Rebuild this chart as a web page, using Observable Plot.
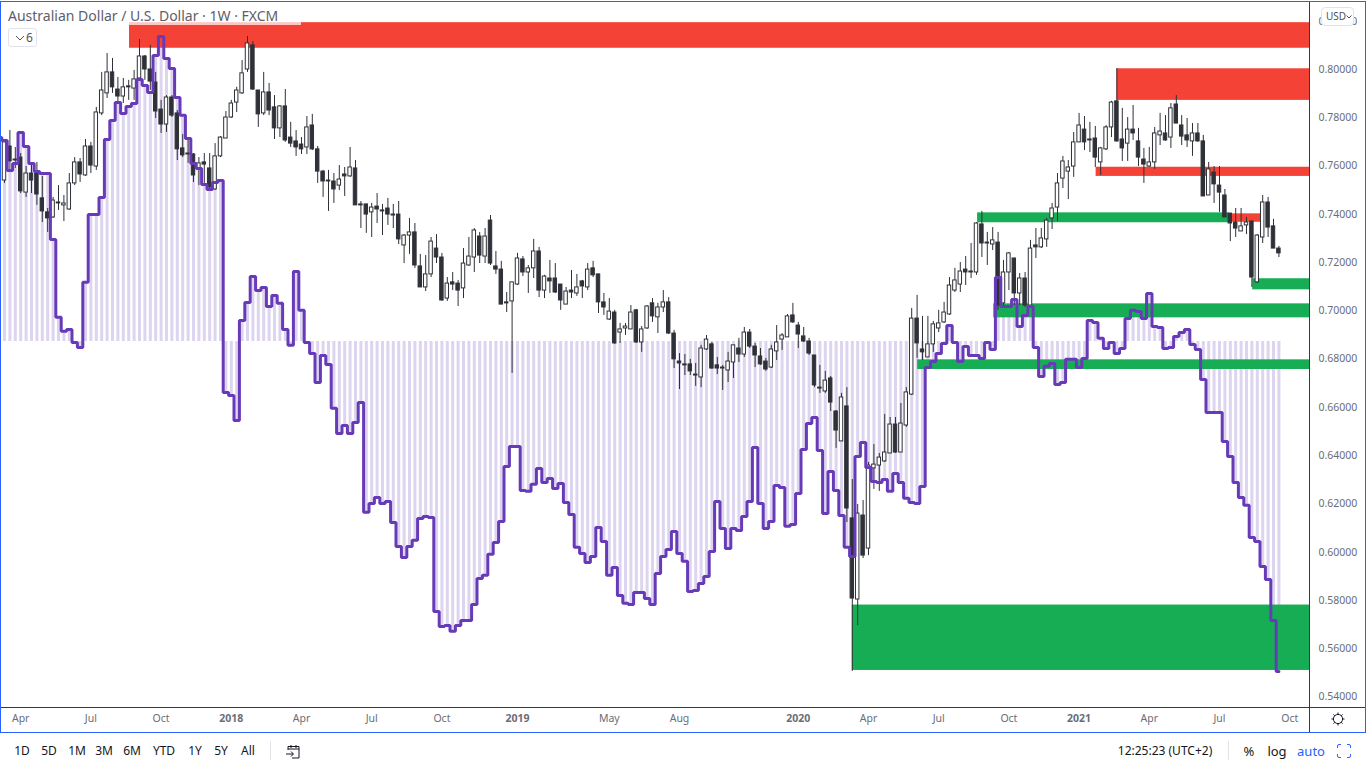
<!DOCTYPE html>
<html><head><meta charset="utf-8">
<script src="https://cdn.jsdelivr.net/npm/d3@7"></script>
<script src="https://cdn.jsdelivr.net/npm/@observablehq/plot@0.6"></script>
<style>
html,body{margin:0;padding:0;background:#fff;overflow:hidden;width:1366px;height:768px;font-family:"Noto Sans",sans-serif}
#wrap{position:relative;width:1366px;height:768px}
#chart{position:absolute;left:0;top:0}
.abs{position:absolute}
.tb{position:absolute;top:743px;font-size:12px;line-height:16px;color:#131722;transform:translateX(-50%);white-space:nowrap}
</style></head><body><div id="wrap"><div id="chart"></div></div>
<script>
// All prices in pips (price x 10000)
const opens=[7540,7681,7627,7635,7490,7569,7573,7466,7408,7387,
7449,7437,7420,7528,7615,7561,7681,7598,7818,7901,
7988,7917,7888,7930,7921,7963,8054,8000,7946,7834,
7772,7884,7818,7673,7648,7648,7590,7615,7590,7503,
7640,7714,7801,7863,7901,8000,8100,7913,7818,7905,
7843,7756,7847,7718,7702,7689,7677,7768,7669,7577,
7540,7536,7519,7565,7557,7590,7441,7441,7408,7432,
7416,7424,7399,7399,7271,7312,7325,7184,7097,7151,
7258,7221,7051,7118,7113,7093,7188,7221,7308,7225,
7374,7184,7171,7035,7039,7109,7213,7159,7176,7246,
7084,7134,7134,7109,7026,7084,7072,7122,7097,7176,
7151,7035,6964,6993,6910,6927,6923,7002,6869,6927,
7031,6973,7014,7035,6906,6790,6778,6778,6736,6724,
6840,6861,6774,6761,6753,6786,6844,6819,6910,6852,
6811,6790,6765,6832,6881,6890,6981,6939,6894,6873,
6815,6682,6666,6720,6583,6459,6604,6140,5804,6152,
6015,6347,6359,6376,6409,6529,6413,6525,6653,6968,
6840,6807,6861,6927,6952,6985,7084,7109,7171,7163,
7159,7358,7283,7275,7283,7031,7159,7217,7072,7134,
7022,7271,7263,7296,7383,7428,7548,7577,7598,7698,
7751,7710,7714,7615,7669,7760,7868,7710,7693,7751,
7702,7627,7598,7615,7727,7735,7718,7855,7768,7727,
7702,7735,7702,7478,7573,7519,7478,7403,7366,7329,
7354,7370,7118,7304,7449,7350,7258];
const highs=[7706,7747,7677,7652,7598,7611,7615,7557,7424,7470,
7519,7478,7569,7635,7631,7710,7698,7843,7988,8066,
8046,7967,7963,7955,7996,8124,8058,8100,7988,7872,
7892,7892,7830,7731,7706,7652,7635,7652,7652,7693,
7722,7826,7872,7926,8037,8137,8116,7913,7988,7942,
7892,7851,7917,7781,7747,7718,7805,7814,7681,7582,
7582,7569,7602,7594,7677,7623,7453,7441,7445,7486,
7441,7466,7441,7453,7316,7383,7362,7234,7229,7304,
7316,7238,7138,7159,7126,7258,7304,7341,7325,7341,
7395,7246,7205,7076,7118,7238,7225,7188,7296,7263,
7147,7209,7196,7109,7097,7167,7151,7126,7196,7205,
7151,7072,7051,7002,6948,6948,7022,7006,6935,7022,
7051,7031,7084,7055,6919,6823,6819,6799,6782,6857,
6898,6869,6807,6774,6828,6857,6886,6931,6923,6865,
6844,6803,6857,6939,6906,6985,7031,6952,6931,6886,
6815,6774,6749,6728,6587,6658,6682,6301,6198,6214,
6372,6446,6409,6571,6558,6558,6616,6682,7010,7064,
6977,6977,6956,7002,7035,7138,7176,7200,7225,7279,
7366,7412,7325,7345,7325,7209,7242,7217,7155,7159,
7292,7341,7341,7383,7445,7569,7640,7623,7739,7818,
7805,7781,7764,7677,7768,7868,8004,7839,7801,7851,
7756,7673,7677,7760,7818,7809,7859,7892,7809,7797,
7776,7776,7727,7615,7598,7598,7503,7403,7424,7424,
7387,7374,7316,7478,7470,7379,7267];
const lows=[7528,7582,7590,7486,7470,7486,7437,7366,7325,7383,
7416,7370,7416,7519,7532,7557,7569,7582,7809,7880,
7901,7863,7859,7872,7872,7955,7955,7913,7797,7735,
7739,7801,7623,7635,7611,7532,7519,7528,7499,7499,
7635,7714,7797,7822,7897,7988,7913,7760,7809,7809,
7710,7718,7698,7677,7640,7648,7648,7664,7528,7470,
7412,7445,7499,7474,7553,7437,7341,7321,7304,7362,
7312,7354,7341,7275,7196,7234,7176,7097,7080,7138,
7196,7039,7039,7084,7018,7051,7184,7159,7196,7196,
7188,7151,7026,6993,6741,7105,7142,7072,7134,7055,
7051,7072,7072,7002,7026,7051,7060,7051,7084,7138,
6989,6981,6960,6861,6865,6898,6923,6865,6828,6923,
6952,6906,6993,6902,6761,6674,6732,6732,6687,6682,
6836,6757,6736,6670,6703,6720,6786,6807,6844,6765,
6774,6749,6761,6794,6836,6890,6948,6844,6869,6815,
6682,6658,6658,6583,6430,6459,6123,5506,5696,5974,
5986,6260,6252,6372,6409,6409,6413,6517,6649,6803,
6794,6807,6828,6910,6948,6981,7076,7076,7105,7134,
7147,7221,7188,7250,7002,7022,7084,7022,7022,7014,
7014,7217,7258,7263,7337,7370,7507,7461,7553,7698,
7664,7656,7594,7561,7664,7718,7698,7619,7619,7706,
7598,7528,7594,7586,7685,7702,7673,7776,7685,7677,
7640,7698,7474,7478,7445,7408,7387,7287,7304,7329,
7316,7097,7113,7279,7304,7258,7221];
const closes=[7698,7619,7623,7495,7569,7540,7482,7412,7383,7457,
7445,7445,7528,7615,7565,7681,7602,7822,7913,7988,
7926,7888,7926,7926,7959,8054,8000,7950,7826,7772,
7884,7809,7669,7644,7652,7561,7611,7606,7511,7640,
7718,7801,7859,7913,7984,8108,7917,7814,7905,7830,
7756,7847,7706,7693,7677,7669,7760,7669,7577,7536,
7536,7503,7544,7557,7594,7437,7437,7399,7428,7420,
7412,7399,7395,7296,7312,7325,7188,7097,7151,7287,
7221,7043,7113,7109,7084,7196,7225,7333,7229,7308,
7196,7171,7026,7031,7118,7217,7159,7176,7246,7084,
7142,7122,7076,7043,7080,7076,7097,7101,7171,7147,
7035,7014,6997,6865,6923,6935,6993,6869,6923,7018,
6977,7014,7035,6906,6799,6782,6774,6749,6732,6844,
6881,6761,6761,6765,6790,6857,6819,6910,6852,6815,
6778,6757,6840,6869,6898,6977,6952,6902,6873,6823,
6691,6678,6711,6620,6504,6641,6181,5808,6160,5986,
6359,6363,6392,6413,6529,6413,6533,6662,6968,6865,
6828,6861,6944,6948,6993,7105,7126,7163,7159,7159,
7362,7279,7279,7292,7022,7159,7238,7072,7134,7022,
7258,7263,7300,7374,7424,7528,7619,7594,7698,7768,
7698,7706,7635,7673,7760,7863,7702,7673,7751,7735,
7635,7606,7615,7735,7743,7706,7839,7776,7722,7706,
7735,7702,7474,7586,7524,7490,7387,7362,7341,7350,
7366,7138,7312,7449,7345,7258,7238];
// stepped oscillator, drawn on the price scale; first value is the bar before the first candle
const indicator=[7718,
7706,7582,7611,7739,7681,7611,7577,7569,7569,7296,
6973,6915,6923,6869,6848,7118,7399,7399,7470,7710,
7789,7863,7818,7847,7859,7959,7934,7905,8058,8137,
8046,8004,7884,7810,7714,7611,7590,7524,7503,7532,
7540,6662,6649,6546,6960,7035,7142,7084,7097,7018,
7064,7031,6923,6857,7163,7002,6869,6823,6703,6815,
6778,6596,6492,6525,6492,6537,6620,6165,6202,6227,
6202,6210,6123,6024,5978,6024,6049,6140,6148,6144,
5754,5692,5696,5672,5696,5717,5717,5783,5891,5904,
5991,6040,6127,6355,6438,6438,6256,6252,6281,6347,
6289,6305,6264,6285,6206,6156,6020,5995,5957,5982,
6102,6044,5904,5937,5821,5788,5783,5833,5833,5808,
5783,5912,5982,6011,6086,5995,5962,5837,5841,5870,
5899,6003,6210,6098,6015,6098,6090,6148,6210,6434,
6202,6098,6127,6276,6268,6107,6115,6243,6426,6533,
6558,6421,6160,6334,6256,6152,6020,5982,6397,6455,
6351,6293,6289,6301,6252,6326,6289,6223,6206,6202,
6272,6765,6790,6823,6865,6939,6869,6790,6852,6815,
6815,6803,6869,6840,7138,7018,7018,7047,6935,6981,
7018,6848,6728,6770,6782,6695,6703,6799,6799,6765,
6803,6960,6952,6886,6844,6869,6823,6844,6968,7002,
6997,6968,7072,6935,6931,6844,6848,6894,6910,6923,
6861,6840,6716,6579,6579,6579,6459,6397,6289,6227,
6194,6061,6044,5941,5887,5717,5506];
const histBaseline=6873;
// supply / demand zones: bar index range and price range
const zoneStart=[23.15,206,202.15,227.35,180.2,231.15,183.2,169.1,157];
const zoneEnd=[null,null,null,232.7,226.8,null,null,null,null];
const zoneTop=[8194,8003,7595,7402,7406,7133,7029,6797,5781];
const zoneBottom=[8088,7872,7557,7367,7365,7087,6971,6757,5510];
const zoneColor=["#F44336","#F44336","#F44336","#F44336","#16AD54","#16AD54","#16AD54","#16AD54","#16AD54"];
const priceTicks=[0.82,0.80,0.78,0.76,0.74,0.72,0.70,0.68,0.66,0.64,0.62,0.60,0.58,0.56,0.54];
const monthTickBars=[3,16,29,55,68,81,112,125,160,173,186,212,225,238];
const monthTickLabels=["Apr","Jul","Oct","Apr","Jul","Oct","May","Aug","Apr","Jul","Oct","Apr","Jul","Oct"];
const yearTickBars=[42,95,147,199];
const yearTickLabels=["2018","2019","2020","2021"];
const rangeButtons=[["1D",22],["5D",49],["1M",77],["3M",104],["6M",132],["YTD",164],["1Y",195],["5Y",221],["All",248]];

const xDomain=[-0.556,241.667], yDomain=[0.53565,0.82776];
const p=v=>v/10000;
const candles=opens.map((o,i)=>({i,o:p(o),h:p(highs[i]),l:p(lows[i]),c:p(closes[i])}));
const osc=indicator.map((v,k)=>({i:k-1,v:p(v)}));
const zones=zoneStart.map((s,k)=>({s,e:zoneEnd[k]??xDomain[1],t:p(zoneTop[k]),b:p(zoneBottom[k]),col:zoneColor[k]}));
const ink="#2f3138";
const chart=Plot.plot({
  width:1366,height:733,marginLeft:1,marginRight:57,marginTop:2,marginBottom:26,
  style:{fontFamily:'"Noto Sans",sans-serif',fontSize:"10.5px",background:"transparent",overflow:"hidden"},
  x:{domain:xDomain,range:[1,1309],axis:null},
  y:{domain:yDomain,range:[707,2],axis:null},
  marks:[
    Plot.ruleX(osc,{x:"i",y1:p(histBaseline),y2:"v",stroke:"#ddd5ef",strokeWidth:3}),
    Plot.rect(zones,{x1:"s",x2:"e",y1:"b",y2:"t",fill:"col"}),
    Plot.ruleX(candles,{x:"i",y1:"l",y2:"h",stroke:ink,strokeWidth:1}),
    Plot.rect(candles,{x1:d=>d.i-0.32,x2:d=>d.i+0.32,y1:"o",y2:"c",fill:d=>d.c>=d.o?"#ffffff":ink,stroke:ink,strokeWidth:1}),
    Plot.line(osc,{x:"i",y:"v",curve:"step",stroke:"#673AB7",strokeWidth:3,strokeLinejoin:"miter"}),
    Plot.axisY(priceTicks,{anchor:"right",tickSize:0,tickPadding:9,label:null,tickFormat:d3.format(".5f"),fill:"#6a6d78",textAnchor:"start"}),
    Plot.axisX(monthTickBars,{anchor:"bottom",tickSize:0,tickPadding:7,label:null,tickFormat:(d,k)=>monthTickLabels[k],fill:"#6a6d78"}),
    Plot.axisX(yearTickBars,{anchor:"bottom",tickSize:0,tickPadding:7,label:null,tickFormat:(d,k)=>yearTickLabels[k],fill:"#6a6d78",fontWeight:"bold"})
  ]
});
document.getElementById("chart").appendChild(chart);
const wrap=document.getElementById("wrap");
function add(html){wrap.insertAdjacentHTML("beforeend",html);}
// frame
add('<div class="abs" style="left:0;top:1px;width:1364px;height:730px;border:1px solid #2962FF"></div>');
add('<div class="abs" style="left:1px;top:707px;width:1364px;height:1px;background:#363a45"></div>');
add('<div class="abs" style="left:1309px;top:2px;width:1px;height:730px;background:#363a45"></div>');
// header
add('<div class="abs" style="left:2px;top:3px;width:299px;height:22px;background:rgba(255,255,255,.7)"></div>');
add('<div class="abs" style="left:8px;top:6px;font-size:14px;line-height:20px;color:#5d606b;white-space:nowrap">Australian Dollar / U.S. Dollar · 1W · FXCM</div>');
add('<div class="abs" style="left:8px;top:28px;width:27px;height:17px;border:1px solid #e0e3eb;border-radius:3px;background:#fff;font-size:12px;line-height:17px;color:#50535e"><svg width="10" height="6" style="position:absolute;left:6px;top:6px"><path d="M1 1l4 4 4-4" fill="none" stroke="#50535e"/></svg><span style="position:absolute;left:17px;top:0">6</span></div>');
add('<div class="abs" style="left:1321px;top:7px;width:31px;height:17px;border:1px solid #e0e3eb;border-radius:4px;background:#fff;font-size:10px;line-height:17px;color:#50535e;white-space:nowrap"><span style="position:absolute;left:4px;top:0">USD</span><svg width="6" height="4" style="position:absolute;left:24px;top:7px"><path d="M.5 .5l2.5 2.5 2.5-2.5" fill="none" stroke="#50535e"/></svg></div>');
// gear
add('<svg class="abs" style="left:1330px;top:711px" width="16" height="16" viewBox="0 0 16 16"><circle cx="8" cy="8" r="4.6" fill="none" stroke="#131722"/><path d="M8 1.5v2M8 12.5v2M1.5 8h2M12.5 8h2M3.4 3.4l1.4 1.4M11.2 11.2l1.4 1.4M3.4 12.6l1.4-1.4M11.2 4.8l1.4-1.4" stroke="#131722"/></svg>');
// toolbar
rangeButtons.forEach(([t,x])=>add(`<div class="tb" style="left:${x}px">${t}</div>`));
add('<div class="abs" style="left:270px;top:741px;width:1px;height:19px;background:#e0e3eb"></div>');
add('<svg class="abs" style="left:285px;top:743px" width="16" height="16" viewBox="0 0 16 16"><path d="M3 7V3.5h11V15H7M3 6h11M6 2v3M11 2v3M1 11h7M6 8.5L8.5 11 6 13.5" fill="none" stroke="#131722"/></svg>');
add('<div class="tb" style="left:1165px;color:#131722">12:25:23 (UTC+2)</div>');
add('<div class="abs" style="left:1228px;top:741px;width:1px;height:19px;background:#e0e3eb"></div>');
add('<div class="tb" style="left:1249px;font-size:13px">%</div>');
add('<div class="tb" style="left:1277px;font-size:13px">log</div>');
add('<div class="tb" style="left:1311px;font-size:13px;color:#2962FF">auto</div>');
add('<svg class="abs" style="left:1336px;top:743px" width="16" height="16" viewBox="0 0 16 16"><path d="M1.5 5V3a1.5 1.5 0 0 1 1.5-1.5h2M11 1.5h2A1.5 1.5 0 0 1 14.5 3v2M14.5 11v2a1.5 1.5 0 0 1-1.5 1.5h-2M5 14.5H3A1.5 1.5 0 0 1 1.5 13v-2" fill="none" stroke="#2962FF"/></svg>');
</script></body></html>
